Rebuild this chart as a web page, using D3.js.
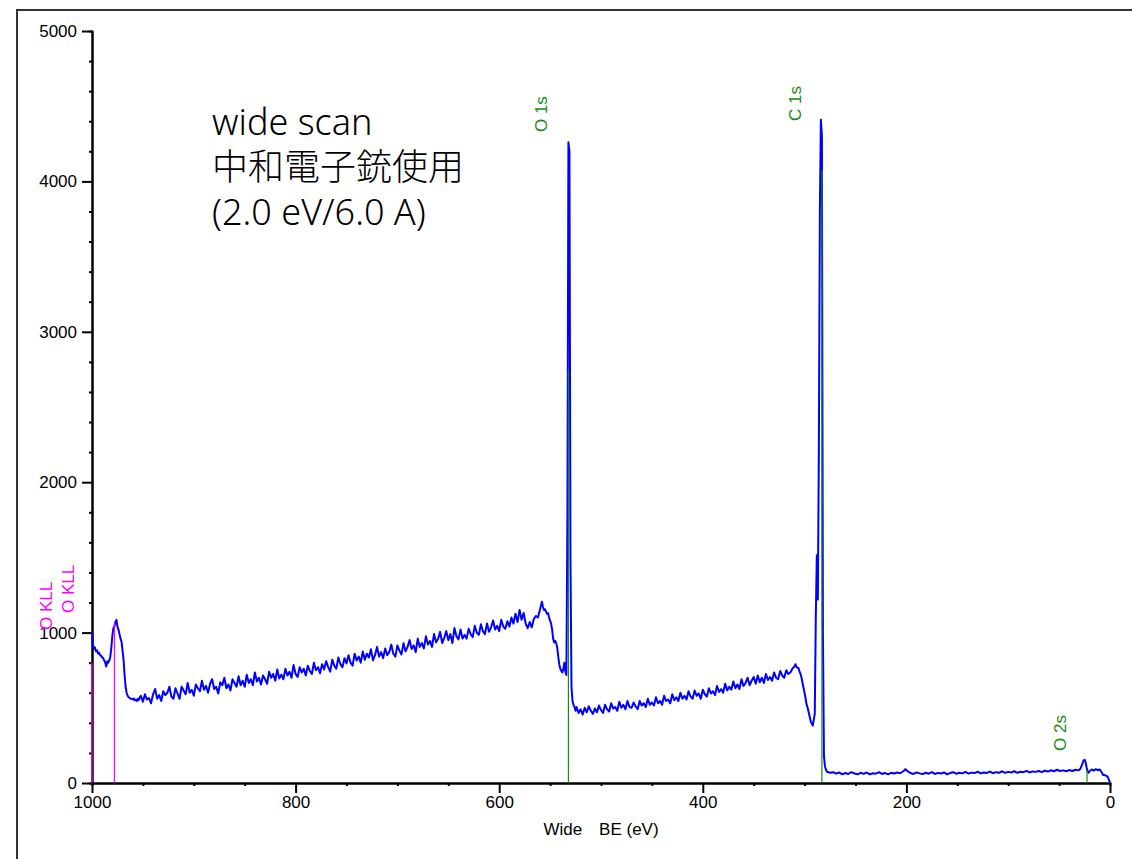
<!DOCTYPE html>
<html>
<head>
<meta charset="utf-8">
<script src="https://cdn.jsdelivr.net/npm/d3@7/dist/d3.min.js"></script>
<style>
    body { margin: 0; background: #fff; }
    .tickLabel { font-family: "Liberation Sans", Arial, "Noto Sans CJK JP", sans-serif; font-size: 17px; fill: #000; }
    .note { font-family: "Noto Sans", "Noto Sans CJK JP", sans-serif; font-size: 36px; font-weight: 300; fill: #000; }
    .peakLabel { font-family: "Liberation Sans", Arial, sans-serif; font-size: 17px; }
</style>
</head>
<body>
<script>
//wrap everything in a self-executing anonymous function
(function(){

    //spectrum segments, [binding energy (eV), counts]
    var highBeCounts = [[1000,1000],[999,920],[998,890],[997,900],[996,875],[995,880],[994,860],[993,865],[992,850],[991,845],[990,835],[989,830],[988,815],[987,800],[986,775],[985,810],[984,800],[983,815],[982,840],[981,900],[980,980],[979,1030],[978,1040],[977,1070],[976,1085],[975,1040],[974,1020],[973,990],[972,960],[971,940],[970,880],[969,820],[968,720],[967,640],[966,600],[965,580],[964,570],[963,565],[962,560],[961,560],[960,555],[959,562],[958,550],[957,555],[956,545],[955,560],[954,552],[953,570],
        [952,580],[950,540],[948,590],[946,555],[944,565],[942,530],[940,590],[938,625],[936,560],[934,585],
        [932,545],[930,610],[928,585],[926,600],[924,640],[922,575],[920,560],[918,630],[916,595],[914,560],
        [912,640],[910,615],[908,590],[906,665],[904,600],[902,620],[900,580],[898,655],[896,630],[894,610],
        [892,680],[890,620],[888,645],[886,600],[884,660],[882,690],[880,625],[878,640],[876,595],[874,670],
        [872,650],[870,700],[868,630],[866,655],[864,615],[862,690],[860,665],[858,640],[856,710],[854,650],
        [852,680],[850,640],[848,720],[846,665],[844,690],[842,650],[840,735],[838,675],[836,700],[834,655],
        [832,715],[830,690],[828,660],[826,740],[824,700],[822,725],[820,680],[818,755],[816,695],[814,720],
        [812,690],[810,760],[808,715],[806,740],[804,700],[802,785],[800,725],[798,705],[796,770],[794,735],
        [792,760],[790,715],[788,780],[786,745],[784,725],[782,800],[780,750],[778,770],[776,730],[774,790],
        [772,755],[770,810],[768,770],[766,740],[764,820],[762,780],[760,760],[758,835],[756,790],[754,770],
        [752,830],[750,795],[748,850],[746,800],[744,780],[742,860],[740,815],[738,840],[736,800],[734,875],
        [732,820],[730,860],[728,835],[726,890],[724,815],[722,850],[720,905],[718,840],[716,870],[714,830],
        [712,895],[710,850],[708,870],[706,920],[704,860],[702,840],[700,915],[698,880],[696,855],[694,930],
        [692,875],[690,905],[688,950],[686,890],[684,915],[682,870],[680,960],[678,905],[676,930],[674,895],
        [672,975],[670,920],[668,945],[666,905],[664,990],[662,935],[660,960],[658,1005],[656,930],[654,965],
        [652,1010],[650,950],[648,990],[646,930],[644,1030],[642,975],[640,955],[638,1020],[636,960],[634,985],
        [632,960],[630,1025],[628,990],[626,970],[624,1045],[622,1000],[620,985],[618,1055],[616,1010],[614,990],
        [612,1060],[610,1005],[608,1035],[606,1080],[604,1020],[602,1045],[600,1010],[598,1085],[596,1040],[594,1025],
        [592,1075],[590,1040],[588,1100],[586,1060],[584,1125],[582,1070],[580,1150],[578,1085],[576,1130],[574,1060],
        [572,1030],[570,1070],[568,1035],[566,1090],[564,1110],[562,1100],[560,1150]];

    var o1sCounts = [[559,1180],[558,1205],[557,1170],[556,1150],[555,1155],[554,1140],[553,1125],[552,1130],[551,1100],[550,1080],[549,1060],[548,1020],[547,960],[546,935],[545,945],[544,930],[543,900],[542,840],[541,790],[540,760],[539,745],[538,735],[537,760],[536,800],[535,740],[534,718],[533,1800],[532,4260],[531,4200],[530,1500],[529,640],[528,545],[527,520],[526,505],[525,480]];

    var midCounts = [[524,505],[522,465],[520,490],[518,455],[516,500],[514,470],[512,510],[510,480],[508,460],[506,495],[504,470],[502,515],[500,485],[498,465],[496,520],[494,490],[492,475],[490,530],[488,495],[486,505],[484,480],[482,540],[480,500],[478,520],[476,490],[474,545],[472,505],[470,500],[468,535],[466,510],[464,490],[462,545],[460,515],[458,530],[456,505],[454,560],[452,520],[450,535],[448,515],[446,570],[444,530],[442,545],[440,520],[438,580],[436,545],[434,555],[432,530],[430,590],[428,550],[426,570],[424,545],[422,600],[420,560],[418,580],[416,555],[414,610],[412,575],[410,560],[408,615],[406,580],[404,595],[402,560],[400,620],[398,590],[396,575],[394,630],[392,595],[390,610],[388,585],[386,645],[384,605],[382,625],[380,600],[378,660],[376,615],[374,640],[372,620],[370,675],[368,630],[366,655],[364,625],[362,690],[360,645],[358,665],[356,700],[354,650],[352,680],[350,705],[348,660],[346,715],[344,670],[342,700],[340,665],[338,725],[336,685],[334,705],[332,680],[330,735],[328,700],[326,690],[324,745],[322,715],[320,700],[318,750],[316,725],[314,735],[312,760],[310,775],[309,790],[308,770],[306,765],[305,740],[304,725],[303,700],[302,665],[301,630],[300,598],[299,560],[298,520],[297,500],[296,470],[295,440],[294,410],[293,395],[292,382],[291,420],[290,460]];

    var c1sCounts = [[289,1100],[288,1515],[287,1220],[286,2200],[285,3800],[284,4410],[283,4300],[282,1000],[281,180],[280,110],[279,88]];

    var lowBeCounts = [[278,75],[275,68],[272,72],[269,62],[266,70],[263,58],[260,66],[257,60],[254,72],[251,63],[248,58],[245,68],[242,61],[239,70],[236,57],[233,65],[230,62],[227,72],[224,60],[221,66],[218,58],[215,68],[212,63],[209,70],[206,65],[203,78],[201,92],[199,80],[196,66],[193,60],[190,70],[187,64],[184,59],[181,68],[178,62],[175,72],[172,60],[169,67],[166,63],[163,70],[160,58],[157,66],[154,72],[151,62],[148,68],[145,64],[142,74],[139,63],[136,69],[133,66],[130,75],[127,64],[124,70],[121,67],[118,76],[115,65],[112,72],[109,68],[106,78],[103,67],[100,74],[97,70],[94,78],[91,68],[88,75],[85,72],[82,80],[79,70],[76,77],[73,74],[70,80],[67,72],[64,82],[61,76],[58,85],[55,78],[52,88],[49,80],[46,84],[43,78],[40,86],[37,80],[34,88],[31,84],[29,95],[27,130],[26,150],[25,155],[24,140],[23,105],[22,75],[21,68],[20,80],[18,90],[16,82],[14,92],[12,85],[10,90],[8,70],[7,55],[5,52],[3,45],[2,38],[1,20],[0,5]];

    //peak markers
    var peakNames = ["O KLL", "O KLL", "O 1s", "C 1s", "O 2s"];
    var peakBE = [1000, 978, 532, 283, 22.6];
    var peakHeight = [800, 1064, 2746, 4076, 86];
    var peakLabelAt = [1017, 1130, 4328, 4402, 213];
    var peakKind = ["auger", "auger", "photo", "photo", "photo"];

    //axis ticks
    var xMajorTicks = [1000, 800, 600, 400, 200, 0];
    var yMajorTicks = [0, 1000, 2000, 3000, 4000, 5000];

    var noteLines = ["wide scan", "中和電子銃使用", "(2.0 eV/6.0 A)"];
    var xTitle = "Wide\u3000BE (eV)";

    window.onload = drawChart();

    function drawChart(){
        var width = 1132,
            height = 859;

        var svg = d3.select("body")
            .append("svg")
            .attr("width", width)
            .attr("height", height);

        //outer frame (right and bottom edges fall off the page)
        svg.append("rect")
            .attr("x", 17)
            .attr("y", 10)
            .attr("width", 1300)
            .attr("height", 1000)
            .attr("fill", "none")
            .attr("stroke", "#333")
            .attr("stroke-width", 2);

        var x = d3.scaleLinear().domain([1000, 0]).range([92, 1110]);
        var y = d3.scaleLinear().domain([0, 5000]).range([783, 31]);

        drawAxes(svg, x, y);

        //spectrum line
        var spectrum = highBeCounts.concat(o1sCounts, midCounts, c1sCounts, lowBeCounts);
        var line = d3.line()
            .x(function(d){ return x(d[0]); })
            .y(function(d){ return y(d[1]); });

        svg.append("path")
            .datum(spectrum)
            .attr("d", line)
            .attr("fill", "none")
            .attr("stroke", "#0000ff")
            .attr("stroke-width", 2)
            .attr("stroke-linejoin", "round");

        drawPeaks(svg, x, y);

        //annotation block
        svg.append("text")
            .attr("class", "note")
            .selectAll("tspan")
            .data(noteLines)
            .enter()
            .append("tspan")
            .attr("x", 212)
            .attr("y", function(d, i){ return 135 + i * 45; })
            .text(function(d){ return d; });
    };

    function drawAxes(svg, x, y){
        var yAxis = d3.axisLeft(y)
            .tickValues(yMajorTicks)
            .tickFormat(d3.format("d"))
            .tickSize(10)
            .tickSizeOuter(0)
            .tickPadding(5);
        var yMinor = d3.axisLeft(y)
            .tickValues(d3.range(0, 5001, 200).filter(function(v){ return v % 1000 != 0; }))
            .tickSize(3)
            .tickFormat("");

        var xAxis = d3.axisBottom(x)
            .tickValues(xMajorTicks)
            .tickFormat(d3.format("d"))
            .tickSize(10)
            .tickSizeOuter(0)
            .tickPadding(3);
        var xMinor = d3.axisBottom(x)
            .tickValues(d3.range(0, 1001, 50).filter(function(v){ return v % 200 != 0; }))
            .tickSize(3)
            .tickFormat("");

        [[yAxis, "translate(92,0)"], [yMinor, "translate(92,0)"], [xAxis, "translate(0,783)"], [xMinor, "translate(0,783)"]].forEach(function(a){
            var g = svg.append("g")
                .attr("transform", a[1])
                .call(a[0]);
            g.selectAll("path, line").attr("stroke", "#000").attr("stroke-width", 2);
            g.selectAll("text").attr("class", "tickLabel").attr("font-family", null).attr("font-size", null).attr("fill", null);
        });

        svg.append("text")
            .attr("class", "tickLabel")
            .attr("x", (x.range()[0] + x.range()[1]) / 2)
            .attr("y", 835)
            .attr("text-anchor", "middle")
            .text(xTitle);
    };

    function drawPeaks(svg, x, y){
        var peaks = peakNames.map(function(name, i){
            return {name: name, be: peakBE[i], h: peakHeight[i], labelAt: peakLabelAt[i], kind: peakKind[i]};
        });

        svg.selectAll(".peakLine")
            .data(peaks)
            .enter()
            .append("line")
            .attr("class", "peakLine")
            .attr("x1", function(d){ return x(d.be); })
            .attr("x2", function(d){ return x(d.be); })
            .attr("y1", y(0))
            .attr("y2", function(d){ return y(d.h); })
            .attr("stroke", function(d){ return d.kind == "auger" ? "#ff00ff" : "#1a8a1a"; })
            .attr("stroke-width", 1.2);

        svg.selectAll(".peakLabel")
            .data(peaks)
            .enter()
            .append("text")
            .attr("class", "peakLabel")
            .attr("transform", function(d){
                var off = d.kind == "auger" ? 40 : 21;
                return "translate(" + (x(d.be) - off) + "," + y(d.labelAt) + ") rotate(-90)";
            })
            .attr("fill", function(d){ return d.kind == "auger" ? "#ff00ff" : "#1a8a1a"; })
            .text(function(d){ return d.name; });
    };
})();
</script>
</body>
</html>
